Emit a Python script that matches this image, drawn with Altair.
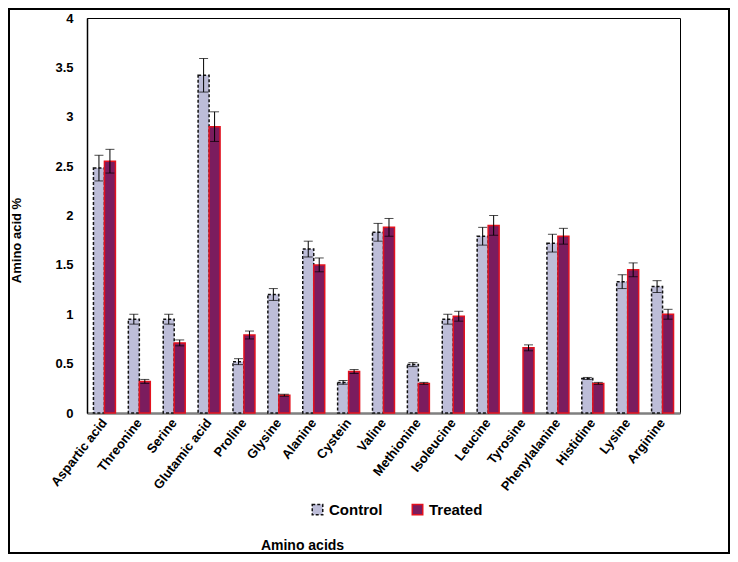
import altair as alt
import pandas as pd

amino = ["Aspartic acid", "Threonine", "Serine", "Glutamic acid", "Proline", "Glysine",
         "Alanine", "Cystein", "Valine", "Methionine", "Isoleucine", "Leucine", "Tyrosine",
         "Phenylalanine", "Histidine", "Lysine", "Arginine"]
control = [2.48, 0.95, 0.95, 3.42, 0.52, 1.20, 1.66, 0.31, 1.83, 0.49, 0.95, 1.79, 0.0,
           1.72, 0.35, 1.33, 1.28]
treated = [2.55, 0.32, 0.71, 2.90, 0.79, 0.18, 1.50, 0.42, 1.88, 0.30, 0.98, 1.90, 0.66,
           1.79, 0.30, 1.45, 1.00]
control_err = [0.13, 0.05, 0.05, 0.17, 0.03, 0.06, 0.08, 0.02, 0.09, 0.02, 0.05, 0.09, 0.0,
               0.09, 0.01, 0.07, 0.06]
treated_err = [0.12, 0.02, 0.03, 0.15, 0.04, 0.01, 0.07, 0.02, 0.09, 0.01, 0.05, 0.10, 0.03,
               0.08, 0.01, 0.07, 0.05]
groups = ["Control", "Treated"]

rows = []
for i, a in enumerate(amino):
    rows.append(dict(acid=a, group="Control", value=control[i], err=control_err[i]))
    rows.append(dict(acid=a, group="Treated", value=treated[i], err=treated_err[i]))
df = pd.DataFrame(rows)
df = df[df["value"] > 0].copy()
df["lo"] = df["value"] - df["err"]
df["hi"] = df["value"] + df["err"]

FONT = "Liberation Sans"

x_enc = alt.X("acid:N", sort=amino,
              scale=alt.Scale(paddingInner=0.37, paddingOuter=0.185),
              axis=alt.Axis(title="Amino acids", labelAngle=-52, labelAlign="right",
                            labelBaseline="middle", labelPadding=7, ticks=False,
                            labelFont=FONT, labelFontWeight="bold", labelFontSize=13,
                            labelColor="black",
                            titleFont=FONT, titleFontWeight="bold", titleFontSize=14,
                            titleColor="black", titleX=215, titleY=125,
                            titleBaseline="top", titleAlign="center",
                            domainColor="#7f7f7f", domainWidth=2.5))
xo_enc = alt.XOffset("group:N", sort=groups, scale=alt.Scale(paddingInner=0.0))
y_scale = alt.Scale(domain=[0, 4])

legend = alt.Legend(title=None, orient="none", direction="horizontal",
                    legendX=223, legendY=484, symbolType="square", symbolSize=110,
                    labelFont=FONT, labelFontWeight="bold", labelFontSize=15,
                    labelColor="black", columnPadding=26, labelOffset=4)

bars = alt.Chart(df).mark_bar(strokeWidth=1.5).encode(
    x=x_enc,
    xOffset=xo_enc,
    y=alt.Y("value:Q", scale=y_scale,
            axis=alt.Axis(title="Amino acid %", values=[0, 0.5, 1, 1.5, 2, 2.5, 3, 3.5, 4],
                          format="~f",
                          grid=False, ticks=False, labelPadding=14,
                          labelFont=FONT, labelFontWeight="bold", labelFontSize=13,
                          labelColor="black",
                          titleFont=FONT, titleFontWeight="bold", titleFontSize=13,
                          titleColor="black", titleX=-64, titleY=222,
                          titleAlign="center",
                          domainColor="black", domainWidth=1.5)),
    fill=alt.Fill("group:N", scale=alt.Scale(domain=groups, range=["#bdbdd8", "#7b1c5e"]),
                  legend=legend),
    stroke=alt.Stroke("group:N", scale=alt.Scale(domain=groups, range=["#111111", "#e3121f"]),
                      legend=legend),
    strokeDash=alt.StrokeDash("group:N",
                              scale=alt.Scale(domain=groups, range=[[3, 2], [1, 0]]),
                              legend=legend),
)

rules = alt.Chart(df).mark_rule(color="black", strokeWidth=1).encode(
    x=x_enc, xOffset=xo_enc,
    y=alt.Y("lo:Q", scale=y_scale), y2="hi:Q")
cap_hi = alt.Chart(df).mark_tick(color="black", thickness=1, size=9).encode(
    x=x_enc, xOffset=xo_enc, y=alt.Y("hi:Q", scale=y_scale))
cap_lo = alt.Chart(df).mark_tick(color="black", thickness=1, size=9).encode(
    x=x_enc, xOffset=xo_enc, y=alt.Y("lo:Q", scale=y_scale))

frame = alt.Chart(pd.DataFrame({"a": [0]})).mark_rect(
    fillOpacity=0, stroke="black", strokeWidth=2, clip=False).encode(
    x=alt.value(-78), x2=alt.value(642), y=alt.value(-9), y2=alt.value(535))

chart = alt.layer(bars, rules, cap_hi, cap_lo, frame).properties(
    width=593, height=395,
    autosize=alt.AutoSizeParams(type="none"),
    padding={"left": 79, "top": 10, "right": 50, "bottom": 141},
).configure_view(stroke="black", strokeWidth=1)

chart.save("out.html", embed_options={"renderer": "svg", "actions": False})
